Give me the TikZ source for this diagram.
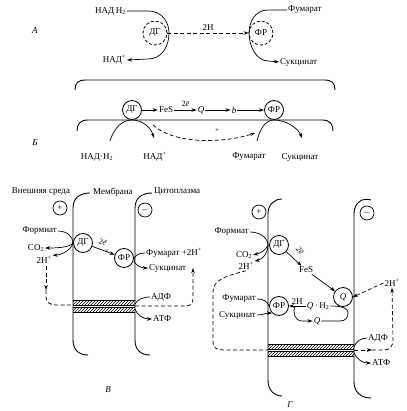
\documentclass[tikz,border=0pt]{standalone}
\usepackage{fontspec}
\setmainfont{Liberation Serif}
\usetikzlibrary{arrows.meta,patterns}
\begin{document}
\begin{tikzpicture}[x=1pt,y=-1pt,
  every node/.style={font=\fontsize{9}{10}\selectfont, inner sep=1pt},
  enz/.style={circle,draw,line width=0.8pt,minimum size=19pt,inner sep=0pt},
  denz/.style={enz,dash pattern=on 3pt off 2pt,minimum size=24pt},
  sgn/.style={circle,draw,line width=0.7pt,minimum size=14pt,inner sep=0pt},
  arr/.style={-{Stealth[length=5pt,width=3.5pt]}},
  ln/.style={line width=0.7pt},
  mem/.style={line width=0.9pt},
  dsh/.style={dash pattern=on 4pt off 2.5pt},
  hatch/.style={pattern=north east lines},
  elab/.style={font=\fontsize{8}{9}\selectfont, inner sep=0.5pt},
]
\useasboundingbox (0,0) rectangle (406,411);

% ---------- A ----------
\node (la) at (35,31) {\textit{А}};
\node[denz] (dg1) at (155,33) {ДГ};
\node[denz] (fr1) at (261,33) {ФР};
\node[anchor=east] (nadh1) at (127,11) {НАД\,Н\textsubscript{2}};
\node[anchor=east] (nadp1) at (127,60) {НАД\textsuperscript{+}};
\draw[ln,arr] (nadh1.east) -- (148,11) .. controls (162,11) and (169,22) .. (169,33) .. controls (169,46) and (162,59) .. (148,59) -- (nadp1.east);
\draw[ln,dsh,arr] (dg1.east) -- node[above=1pt]{2Н} (fr1.west);
\node[anchor=west] (fum1) at (287,10) {Фумарат};
\node[anchor=west] (suc1) at (279,62) {Сукцинат};
\draw[ln,arr] (fum1.west) -- (268,10) .. controls (255,10) and (249,22) .. (249,33) .. controls (249,47) and (257,61) .. (268,61) -- (suc1.west);

% ---------- B ----------
\node (lb) at (35,143) {\textit{Б}};
\draw[mem] (75,90) .. controls (75,83) and (78,80) .. (86,80) -- (324,80) .. controls (332,80) and (335,83) .. (335,90);
\draw[mem] (77,131) .. controls (77,124) and (80,120) .. (88,120) -- (322,120) .. controls (330,120) and (333,124) .. (333,131);
\node[enz] (dg2) at (132,110) {ДГ};
\node (fes2) at (166,110) {FeS};
\node (q2) at (201,110) {\textit{Q}};
\node (b2) at (234,110) {\textit{b}};
\node[enz] (fr2) at (274,110) {ФР};
\draw[ln,arr] (dg2) -- (fes2);
\draw[ln,arr] (fes2) -- node[elab,above=3pt]{2\textit{ē}} (q2);
\draw[ln,arr] (q2) -- (b2);
\draw[ln,arr] (b2) -- (fr2);
\node (nadh2) at (97,157) {НАД·Н\textsubscript{2}};
\node (nadp2) at (155,157) {НАД\textsuperscript{+}};
\coordinate (b1s) at (110,141);
\coordinate (b1e) at (154,138);
\draw[ln,arr] (b1s) .. controls (114,128) and (122,120) .. (132,120) .. controls (143,120) and (151,128) .. (b1e);
\coordinate (bds) at (153,125);
\coordinate (bde) at (255,133);
\draw[ln,dsh,arr] (bds) .. controls (175,145) and (225,143) .. (bde);
\node (plusb) at (217,131) {\scriptsize +};
\node (fum2) at (249,157) {Фумарат};
\node (suc2) at (300,157) {Сукцинат};
\coordinate (b2s) at (257,141);
\coordinate (b2e) at (302,138);
\draw[ln,arr] (b2s) .. controls (260,128) and (266,120) .. (274,120) .. controls (286,120) and (298,128) .. (b2e);

% ---------- V ----------
\node (ext) at (41,192) {Внешняя среда};
\node[anchor=west] (memb) at (92,192) {Мембрана};
\node[anchor=west] (cyt) at (153,192) {Цитоплазма};
\draw[mem] (90,193) .. controls (80,193) and (73,198) .. (73,208) -- (73,340) .. controls (73,350) and (79,355) .. (88,355);
\draw[mem] (152,193) .. controls (142,193) and (135,198) .. (135,208) -- (135,340) .. controls (135,350) and (141,355) .. (150,355);
\node[sgn] (p3) at (60,208) {+};
\node[sgn] (m3) at (145,210) {$-$};
\node[enz] (dg3) at (83,243) {ДГ};
\node[enz] (fr3) at (124,258) {ФР};
\node[anchor=east] (form3) at (58,231) {Формиат};
\node (co23) at (36,248) {CO\textsubscript{2}};
\node (h3) at (44,260) {2H\textsuperscript{+}};
\coordinate (v1) at (73,243);
\draw[ln] (form3.east) .. controls (66,231) and (73,236) .. (v1);
\draw[ln,arr] (v1) .. controls (70,247) and (60,248) .. (co23.east);
\draw[ln,arr] (v1) .. controls (71,250) and (62,255) .. (h3.north east);
\draw[ln,arr] (dg3) -- node[elab,sloped,above=4pt,pos=0.35]{2\textit{ē}} (fr3);
\path (dg3) -- node[pos=0.65,inner sep=0pt,font=\tiny]{$\times$} (fr3);
\node[anchor=west] (fum3) at (145,253) {Фумарат +2H\textsuperscript{+}};
\node[anchor=west] (suc3) at (148,268) {Сукцинат};
\draw[ln,arr] (fum3.west) .. controls (138,253) and (134,256) .. (134,260) .. controls (134,264) and (140,268) .. (suc3.west);
\fill[hatch] (73,300) rectangle (135,305);
\fill[hatch] (73,307) rectangle (135,312);
\draw[ln] (73,300) -- (135,300) (73,305) -- (135,305) (73,307) -- (135,307) (73,312) -- (135,312);
\coordinate (vd1) at (46,290);
\draw[ln,dsh,arr] (46,266) -- (vd1);
\draw[ln,dsh] (vd1) -- (46,297) .. controls (46,302) and (50,305) .. (56,305) -- (73,305);
\draw[ln,dsh,arr] (135,306) -- (186,306) .. controls (191,306) and (193,303) .. (193,298) -- (193,268);
\node[anchor=west] (adp3) at (150,297) {АДФ};
\node[anchor=west] (atp3) at (152,319) {АТФ};
\draw[ln] (adp3.west) .. controls (142,297) and (137,300) .. (135,304);
\draw[ln,arr] (135,309) .. controls (137,315) and (143,319) .. (atp3.west);
\node (lv) at (108,390) {\textit{В}};

% ---------- G ----------
\draw[mem] (282,199) .. controls (274,199) and (268,205) .. (268,214) -- (268,380) .. controls (268,390) and (274,396) .. (282,396);
\draw[mem] (371,200) .. controls (362,197) and (354,203) .. (354,214) -- (354,382) .. controls (354,392) and (361,398) .. (371,398);
\node[sgn] (p4) at (259,212) {+};
\node[sgn] (m4) at (367,213) {$-$};
\node[enz] (dg4) at (279,245) {ДГ};
\node[anchor=east] (form4) at (250,232) {Формиат};
\node (co24) at (244,255) {CO\textsubscript{2}};
\node (h4a) at (246,266) {2H\textsuperscript{+}};
\coordinate (g1) at (268,245);
\draw[ln] (form4.east) .. controls (260,232) and (268,238) .. (g1);
\draw[ln,arr] (g1) .. controls (266,250) and (261,253) .. (co24.east);
\draw[ln,arr] (g1) .. controls (268,253) and (263,259) .. (h4a.north east);
\node (fes4) at (306,270) {FeS};
\draw[ln,arr] (dg4) -- (fes4);
\node[elab,rotate=-48] (e4) at (300,251) {\textit{2ē}};
\node[enz] (q4) at (343,297) {\textit{Q}};
\draw[ln,arr] (fes4) -- (q4);
\node (h4b) at (392,283) {2H\textsuperscript{+}};
\draw[ln,dsh,arr] (h4b.west) -- (q4.east);
\node[enz] (fr4) at (279,306) {ФР};
\node[anchor=east] (fum4) at (257,299) {Фумарат};
\node[anchor=east] (suc4) at (257,315) {Сукцинат};
\draw[ln] (fum4.east) .. controls (263,299) and (267,301) .. (fr4.west);
\draw[ln,arr] (suc4.east) .. controls (262,315) and (267,313) .. (fr4.south west);
\node (qh24) at (318,306) {\textit{Q}\,·\,H\textsubscript{2}};
\draw[ln,arr] (qh24.west) -- node[above]{2H} (fr4.east);
\node (ql4) at (317,321) {\textit{Q}};
\coordinate (g2) at (295,306);
\draw[ln,arr] (g2) .. controls (292,312) and (295,321) .. (302,321) -- (ql4.west);
\draw[ln] (ql4.east) -- (340,321) .. controls (346,321) and (348,317) .. (348,313) .. controls (348,309) and (344,306) .. (qh24.east);
\fill[hatch] (268,344) rectangle (354,349);
\fill[hatch] (268,351) rectangle (354,356);
\draw[ln] (268,344) -- (354,344) (268,349) -- (354,349) (268,351) -- (354,351) (268,356) -- (354,356);
\draw[ln,dsh] (h4a.south) .. controls (225,276) and (213,280) .. (213,292) -- (213,342) .. controls (213,348) and (217,350) .. (224,350) -- (268,350);
\coordinate (g3) at (372,350);
\draw[ln,dsh,arr] (354,350) -- (g3);
\draw[ln,dsh,arr] (g3) -- (384,350) .. controls (390,350) and (393,346) .. (393,340) -- (h4b.south);
\node[anchor=west] (adp4) at (367,338) {АДФ};
\node[anchor=west] (atp4) at (371,363) {АТФ};
\draw[ln] (adp4.west) .. controls (360,338) and (356,342) .. (354,347);
\draw[ln,arr] (354,353) .. controls (357,359) and (362,363) .. (atp4.west);
\node (lg) at (290,405) {\textit{Г}};
\end{tikzpicture}
\end{document}
